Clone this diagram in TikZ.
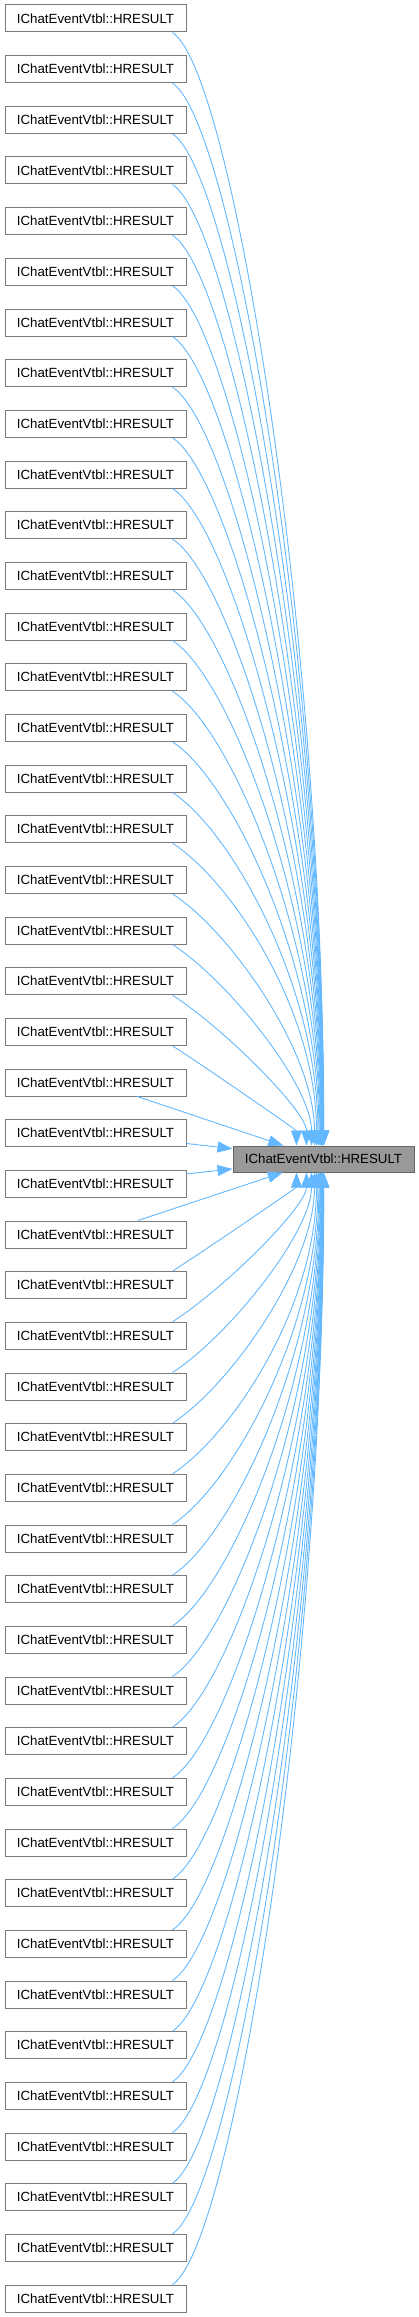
\documentclass[tikz,border=0pt]{standalone}
\usepackage{fontspec}
\setmainfont{Liberation Sans}
\usetikzlibrary{arrows.meta,calc}
\definecolor{edgeblue}{HTML}{63B8FF}
\definecolor{boxborder}{HTML}{7A7A7A}
\definecolor{tgtfill}{HTML}{999999}
\definecolor{tgtborder}{HTML}{666666}
\begin{document}
\begin{tikzpicture}[x=1pt,y=-1pt,
  srcbox/.style={draw=boxborder,line width=1pt,fill=white,minimum width=181pt,minimum height=27pt,inner sep=0pt,font=\fontsize{13.3pt}{16pt}\selectfont},
  tgtbox/.style={draw=tgtborder,line width=1pt,fill=tgtfill,minimum width=181pt,minimum height=26pt,inner sep=0pt,font=\fontsize{13.3pt}{16pt}\selectfont},
  edgeline/.style={draw=edgeblue,line width=0.9pt,-{Triangle[length=15pt,width=11pt]}}]
\useasboundingbox (0,0) rectangle (419,2317);
\foreach \i in {1,...,46}{
  \pgfmathsetmacro\yc{18.5+(\i-1)*50.6667}
  \node[srcbox] (s\i) at (95.5,\yc) {IChatEventVtbl::HRESULT};
}
\node[tgtbox] (t) at (323.5,1159) {IChatEventVtbl::HRESULT};
% curved edges from rows above
\foreach \i in {1,...,21}{
  \pgfmathsetmacro\k{23-\i}
  \pgfmathsetmacro\xe{94-60/\k}
  \pgfmathsetmacro\dx{155-60/\k}
  \pgfmathsetmacro\ax{0.4*\dx}
  \pgfmathsetmacro\ay{0.26*\dx}
  \pgfmathsetmacro\h{0.45*min(1,\k/6)*(1146-(32+(\i-1)*50.6667))}
  \draw[edgeline] ([xshift=-14pt]s\i.south east) .. controls +(\ax,\ay) and +(0,-\h) .. ([xshift=\xe pt]t.north west);
}
% curved edges from rows below
\foreach \i in {26,...,46}{
  \pgfmathsetmacro\k{\i-24}
  \pgfmathsetmacro\xe{94-60/\k}
  \pgfmathsetmacro\dx{155-60/\k}
  \pgfmathsetmacro\ax{0.4*\dx}
  \pgfmathsetmacro\ay{0.26*\dx}
  \pgfmathsetmacro\h{0.45*min(1,\k/6)*((5+(\i-1)*50.6667)-1172)}
  \draw[edgeline] ([xshift=-14pt]s\i.north east) .. controls +(\ax,-\ay) and +(0,\h) .. ([xshift=\xe pt]t.south west);
}
% straight edges from the nearest rows
\foreach \i in {22,23,24,25}{
  \draw[edgeline] (s\i) -- (t);
}
\end{tikzpicture}
\end{document}
